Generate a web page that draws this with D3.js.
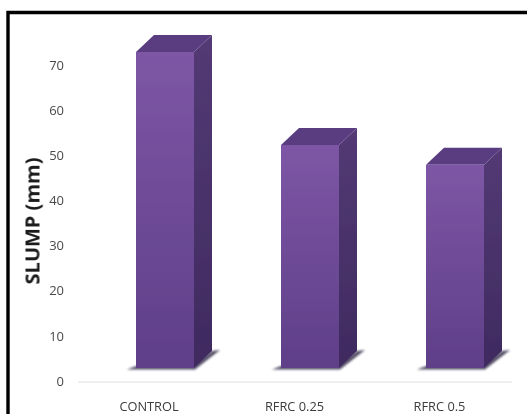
<!DOCTYPE html>
<html><head><meta charset="utf-8">
<script src="https://cdn.jsdelivr.net/npm/d3@7/dist/d3.min.js"></script>
<style>html,body{margin:0;padding:0;background:#fff}svg{display:block}</style>
</head><body><svg id="c" width="527" height="414"></svg>
<script>
const categories=["CONTROL","RFRC 0.25","RFRC 0.5"];
const slumpValues=[70,49.4,45];
const yTicks=[0,10,20,30,40,50,60,70];
const yLabel="SLUMP (mm)";
const labelCenters=[149,294.5,439.5];

const svg=d3.select("#c");
const W=527,H=414;
const y=d3.scaleLinear().domain([0,70]).range([381,65]);
const band=d3.scaleLinear().domain([0,categories.length-1]).range([136,426]);
const barW=58,dx=18,dy=17,lift=13;

const defs=svg.append("defs");
function grad(id,a,b){const g=defs.append("linearGradient").attr("id",id).attr("x1",0).attr("x2",0).attr("y1",0).attr("y2",1);
 g.append("stop").attr("offset",0).attr("stop-color",a);g.append("stop").attr("offset",1).attr("stop-color",b);}
grad("front","#7d56a5","#5f3f88");
grad("side","#533a74","#3f2a60");
defs.append("filter").attr("id","soft").attr("x","-10%").attr("y","-10%").attr("width","120%").attr("height","120%").append("feGaussianBlur").attr("stdDeviation",0.6);
defs.append("filter").attr("id","soft2").attr("x","-20%").attr("y","-50%").attr("width","140%").attr("height","200%").append("feGaussianBlur").attr("stdDeviation",1.3);
defs.append("filter").attr("id","textsoft").append("feGaussianBlur").attr("stdDeviation",0.4);

// frame
svg.append("path").attr("d",`M8,${H} V12.5 H${W}`).attr("fill","none").attr("stroke","#000").attr("stroke-width",3.4);

// baseline
svg.append("line").attr("x1",78).attr("x2",512).attr("y1",382).attr("y2",382).attr("stroke","#e2e0e0").attr("stroke-width",1.2);

// y tick labels
svg.append("g").selectAll("text").data(yTicks).join("text")
 .attr("x",64).attr("y",d=>y(d)).attr("dy","0.36em").attr("text-anchor","end")
 .attr("font-family","'Open Sans',sans-serif").attr("font-size",13).attr("fill","#4a4a4a")
 .attr("filter","url(#textsoft)").text(d=>d);

// y title
svg.append("text").attr("transform","translate(39.5,221) rotate(-90)").attr("text-anchor","middle")
 .attr("font-family","'Open Sans',sans-serif").attr("font-weight",700).attr("font-size",20).attr("fill","#1c1c1c")
 .attr("filter","url(#textsoft)").text(yLabel);

// x labels
svg.append("g").selectAll("text").data(categories).join("text")
 .attr("x",(d,i)=>labelCenters[i]).attr("y",411).attr("text-anchor","middle")
 .attr("font-family","'Open Sans',sans-serif").attr("font-size",12.8).attr("fill","#3c3c3c")
 .attr("filter","url(#textsoft)").text(d=>d);

// bars
const bars=svg.append("g").selectAll("g").data(slumpValues).join("g");
const base=y(0)-lift;
bars.append("path").attr("filter","url(#soft2)").attr("fill","#4e4660").attr("opacity",0.95)
 .attr("d",(d,i)=>{const l=band(i);return `M${l-9},${base+1.5} L${l+barW+1},${base+1.5} L${l+barW+dx+8},${base-dy-1} L${l+barW+dx},${base-dy} L${l+barW},${base-4} L${l},${base-2} Z`;});
bars.append("path").attr("filter","url(#soft)").attr("fill","url(#side)")
 .attr("d",(d,i)=>{const l=band(i),t=y(d)-lift;return `M${l+barW},${t} L${l+barW+dx},${t-dy} V${base-dy} L${l+barW},${base} Z`;});
bars.append("path").attr("filter","url(#soft)").attr("fill","#5a3d80")
 .attr("d",(d,i)=>{const l=band(i),t=y(d)-lift;return `M${l},${t} L${l+dx},${t-dy} H${l+barW+dx} L${l+barW},${t} Z`;});
bars.append("rect").attr("filter","url(#soft)").attr("fill","url(#front)")
 .attr("x",(d,i)=>band(i)).attr("y",d=>y(d)-lift).attr("width",barW).attr("height",d=>base-(y(d)-lift));
</script></body></html>
